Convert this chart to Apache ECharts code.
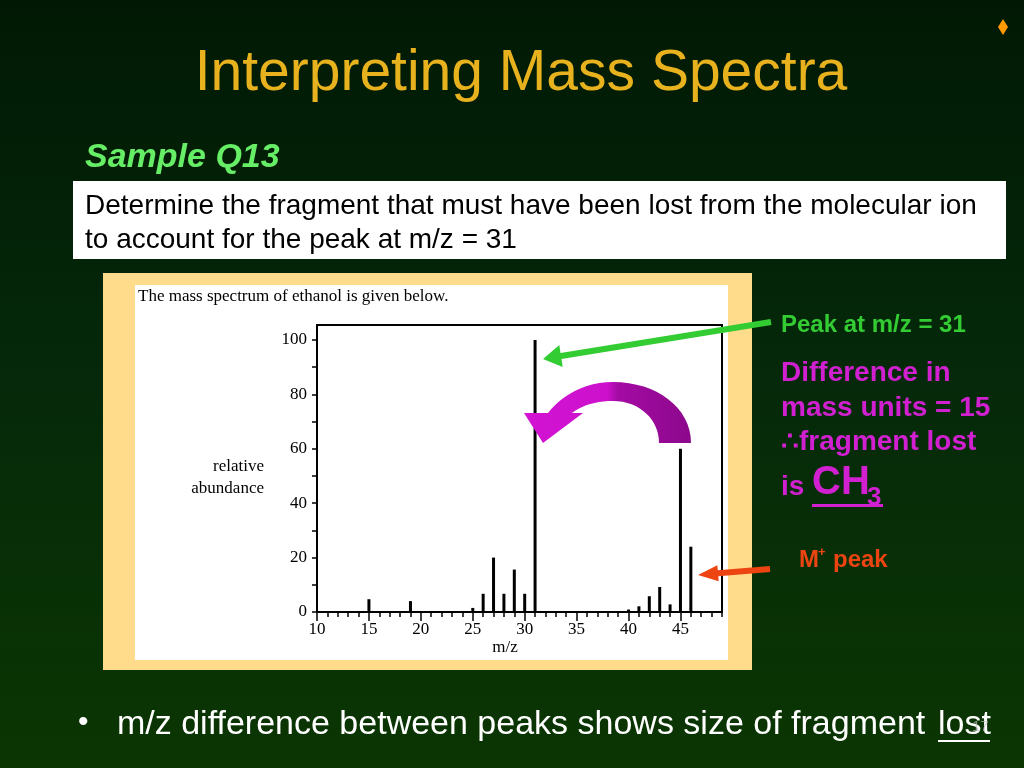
<!DOCTYPE html>
<html><head><meta charset="utf-8">
<script src="https://cdn.jsdelivr.net/npm/echarts@6/dist/echarts.min.js"></script>
<style>html,body{margin:0;padding:0;background:#021a05;overflow:hidden}#c{width:1024px;height:768px}</style>
</head><body><div id="c"></div>
<script>
// ---- data ----
const mzValues = [15, 19, 25, 26, 27, 28, 29, 30, 31, 40, 41, 42, 43, 44, 45, 46];
const abundance = [4.7, 4.0, 1.5, 6.7, 20, 6.7, 15.6, 6.7, 100, 0.9, 2.1, 5.8, 9.2, 2.8, 60, 24];
const yTickLabels = [0, 20, 40, 60, 80, 100];
const yTicks = [0, 10, 20, 30, 40, 50, 60, 70, 80, 90, 100];
const xTickLabels = [10, 15, 20, 25, 30, 35, 40, 45];
const slideTitle = 'Interpreting Mass Spectra';
const chartCaption = 'The mass spectrum of ethanol is given below.';

const SANS = '"Liberation Sans", Arial, Helvetica, sans-serif';
const SERIF = '"Liberation Serif", "Times New Roman", serif';

function T(text, x, y, font, fill, align, z) {
  return { type: 'text', x: x, y: y, z: z || 100, silent: true,
    style: { text: text, font: font, fill: fill, align: align || 'left', verticalAlign: 'middle' } };
}
function bez(p0, p1, p2, p3, n) {
  const pts = [];
  for (let i = 0; i <= n; i++) {
    const t = i / n, u = 1 - t;
    pts.push([
      u*u*u*p0[0] + 3*u*u*t*p1[0] + 3*u*t*t*p2[0] + t*t*t*p3[0],
      u*u*u*p0[1] + 3*u*u*t*p1[1] + 3*u*t*t*p2[1] + t*t*t*p3[1]
    ]);
  }
  return pts;
}
// curved magenta arrow outline
let curve = [];
curve = curve.concat(bez([659,443],[659,420],[640,401],[613,401],16));
curve = curve.concat(bez([613,401],[597,401],[582,405],[572,413],10));
curve.push([583,413],[543,443],[524,413],[548,413]);
curve = curve.concat(bez([548,413],[562,395],[585,382],[613,382],12));
curve = curve.concat(bez([613,382],[657,382],[691,408],[691,443],16));

const chart = echarts.init(document.getElementById('c'), null, { renderer: 'canvas' });
chart.setOption({
  animation: false,
  backgroundColor: new echarts.graphic.LinearGradient(0, 0, 0, 1, [
    { offset: 0, color: '#011904' },
    { offset: 0.5, color: '#05290a' },
    { offset: 1, color: '#0b3602' }
  ]),
  grid: { left: 317, top: 325, width: 405, height: 287, show: true, z: 5,
    backgroundColor: 'transparent', borderColor: '#000', borderWidth: 2 },
  xAxis: [{
    type: 'value', min: 10, max: 49, interval: 1, z: 6,
    axisLine: { show: true, onZero: false, lineStyle: { color: '#000', width: 2 } },
    axisTick: { show: true, inside: false, length: 5, lineStyle: { color: '#000', width: 1.5 } },
    axisLabel: { customValues: xTickLabels, margin: 9, color: '#000', fontFamily: SERIF, fontSize: 17 },
    splitLine: { show: false }
  }, {
    type: 'value', min: 10, max: 49, interval: 5, position: 'bottom', z: 6,
    axisLine: { show: false },
    axisTick: { show: true, inside: false, length: 9, customValues: xTickLabels, lineStyle: { color: '#000', width: 1.5 } },
    axisLabel: { show: false },
    splitLine: { show: false }
  }],
  yAxis: {
    type: 'value', min: 0, max: 105.5, interval: 10, z: 6,
    axisLine: { show: true, lineStyle: { color: '#000', width: 2 } },
    axisTick: { show: true, inside: false, length: 5, customValues: yTicks, lineStyle: { color: '#000', width: 1.5 } },
    axisLabel: { customValues: yTickLabels, margin: 10, color: '#000', fontFamily: SERIF, fontSize: 17 },
    splitLine: { show: false }
  },
  series: [{
    type: 'bar', xAxisIndex: 0, barWidth: 3, silent: true, z: 7,
    itemStyle: { color: '#000' },
    data: mzValues.map((m, i) => [m, abundance[i]])
  }],
  graphic: { elements: [
    // frames
    { type: 'rect', z: 0, silent: true, shape: { x: 103, y: 273, width: 649, height: 397 }, style: { fill: '#ffdc8c' } },
    { type: 'rect', z: 1, silent: true, shape: { x: 135, y: 285, width: 593, height: 375 }, style: { fill: '#ffffff' } },
    { type: 'rect', z: 1, silent: true, shape: { x: 73, y: 181, width: 933, height: 78 }, style: { fill: '#ffffff' } },
    // diamond
    { type: 'polygon', z: 100, silent: true, shape: { points: [[1003,19],[1008,27],[1003,35],[998,27]] }, style: { fill: '#ff9a00' } },
    // titles
    T(slideTitle, 521, 74, '57px ' + SANS, '#e8b21e', 'center'),
    T('Sample Q13', 85, 158, 'italic bold 34px ' + SANS, '#66ee66'),
    T('Determine the fragment that must have been lost from the molecular ion', 85, 206, '28px ' + SANS, '#000'),
    T('to account for the peak at m/z = 31', 85, 240, '28px ' + SANS, '#000'),
    // chart texts
    T(chartCaption, 138, 297, '17px ' + SERIF, '#000'),
    T('relative', 264, 467, '17px ' + SERIF, '#000', 'right'),
    T('abundance', 264, 489, '17px ' + SERIF, '#000', 'right'),
    T('m/z', 505, 648, '17px ' + SERIF, '#000', 'center'),
    // green arrow
    { type: 'polygon', z: 90, silent: true, shape: { points: [[770.5,319],[560.5,353],[559.3,345],[543,359],[562.7,367],[561.5,359],[771.5,325]] }, style: { fill: '#33cc33' } },
    // orange arrow
    { type: 'polygon', z: 90, silent: true, shape: { points: [[769.8,566],[717.8,570.3],[717.3,565.3],[698,575],[718.7,581.3],[718.3,576.3],[770.3,572]] }, style: { fill: '#ee4411' } },
    // magenta curved arrow
    { type: 'polygon', z: 90, silent: true, shape: { points: curve },
      style: { fill: { type: 'linear', x: 0, y: 0, x2: 1, y2: 0, colorStops: [
        { offset: 0, color: '#d214d2' }, { offset: 0.5, color: '#cc10cc' },
        { offset: 0.56, color: '#a40aa4' }, { offset: 1, color: '#8c088c' } ] } } },
    // right side notes
    T('Peak at m/z = 31', 781, 325, 'bold 24px ' + SANS, '#33cc33'),
    T('Difference in', 781, 373, 'bold 28px ' + SANS, '#d020d0'),
    T('mass units = 15', 781, 408, 'bold 28px ' + SANS, '#d020d0'),
    T('\u2234fragment lost', 781, 442, 'bold 28px ' + SANS, '#d020d0'),
    T('is', 781, 487, 'bold 28px ' + SANS, '#d020d0'),
    T('CH', 812, 483, 'bold 40px ' + SANS, '#d020d0'),
    T('3', 867, 498, 'bold 26px ' + SANS, '#d020d0'),
    { type: 'rect', z: 100, silent: true, shape: { x: 812, y: 504, width: 71, height: 3 }, style: { fill: '#d020d0' } },
    T('M', 799, 560, 'bold 24px ' + SANS, '#ee4411'),
    T('+', 818, 552, 'bold 13px ' + SANS, '#ee4411'),
    T('peak', 833, 560, 'bold 24px ' + SANS, '#ee4411'),
    // bottom bullet
    T('\u2022', 78, 723, '30px ' + SANS, '#ffffff'),
    T('m/z difference between peaks shows size of fragment ', 117, 725, '34px ' + SANS, '#ffffff'),
    T('lost', 938, 725, '34px ' + SANS, '#ffffff'),
    { type: 'rect', z: 100, silent: true, shape: { x: 938, y: 740, width: 52, height: 2 }, style: { fill: '#ffffff' } },
    T('17', 972, 727, '15px ' + SANS, 'rgba(190,190,190,0.7)')
  ] }
});
</script>
</body></html>
